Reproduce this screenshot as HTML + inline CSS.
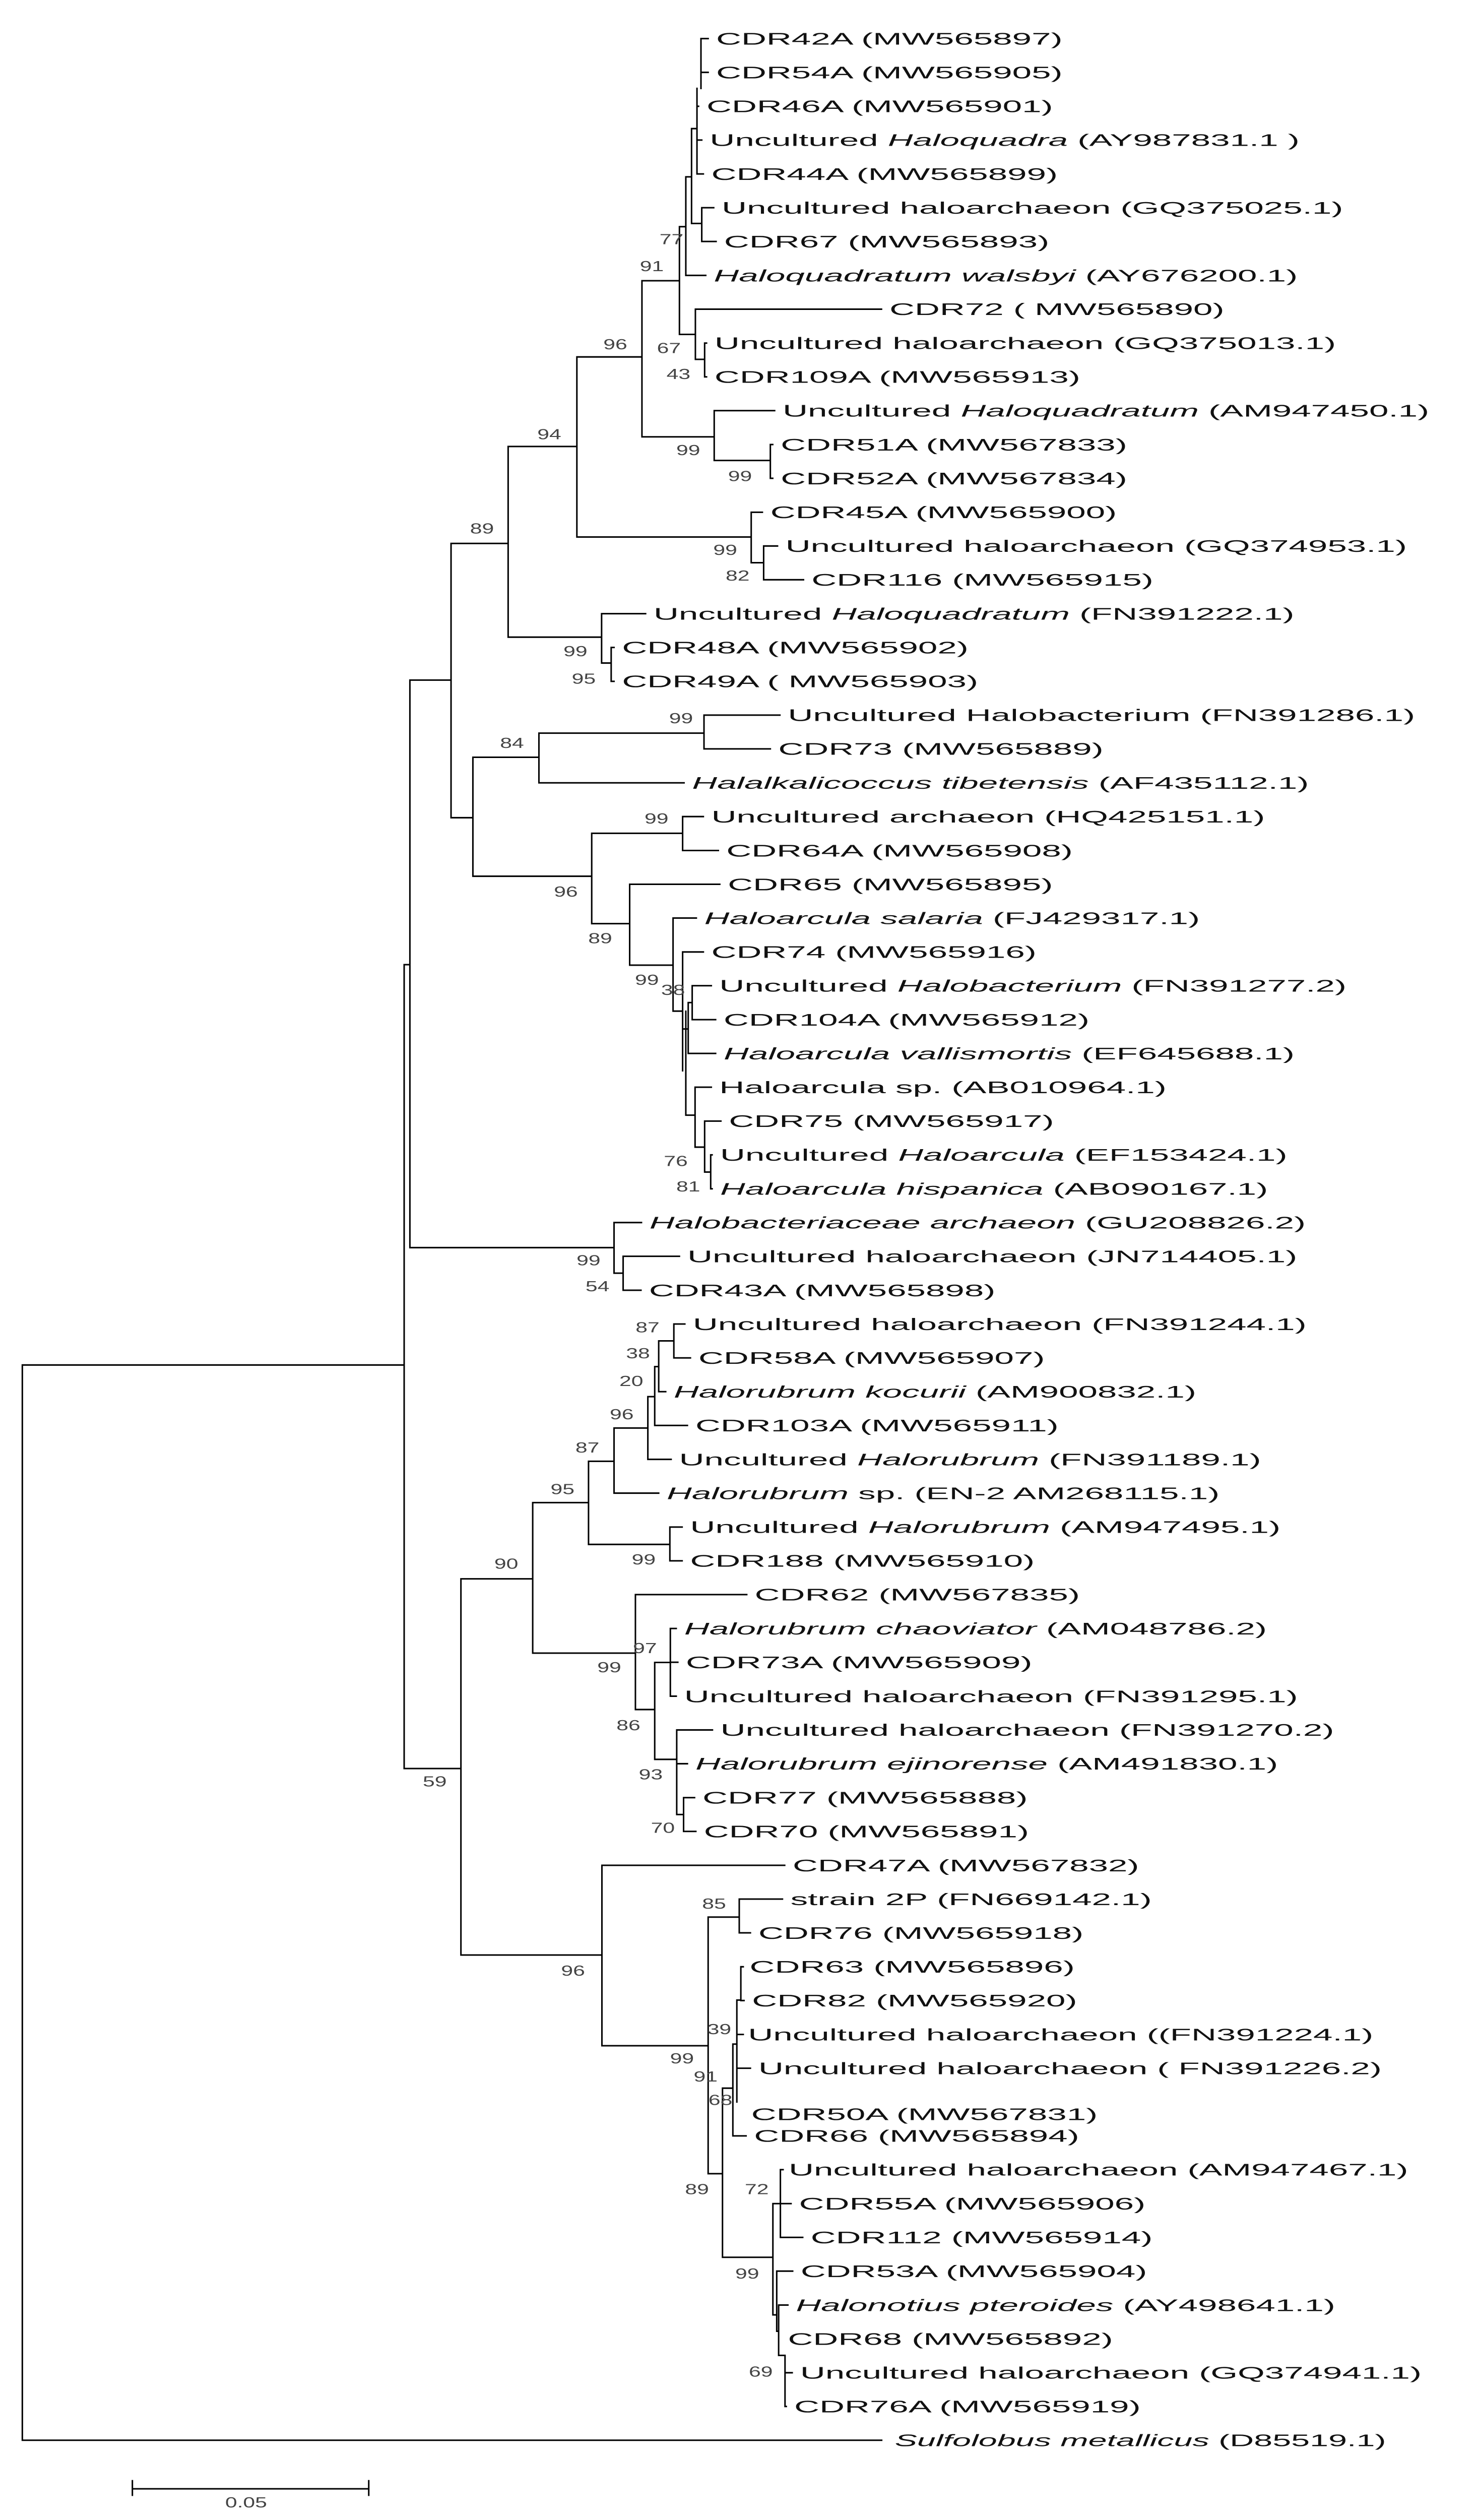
<!DOCTYPE html>
<html><head><meta charset="utf-8"><style>
html,body{margin:0;padding:0;background:#fff;width:2931px;height:5222px;overflow:hidden;}
svg{display:block;position:absolute;left:0;top:0;}
.t{font-family:"Liberation Sans",sans-serif;font-size:10.5px;fill:#111;}
.b{font-family:"Liberation Sans",sans-serif;font-size:9px;fill:#444;}
</style></head><body>
<svg width="2931" height="5222" style="width:2931px;height:5222px" xmlns="http://www.w3.org/2000/svg">
<rect width="2931" height="5222" fill="#fff"/>
<g transform="scale(3.165,3.19)">
<g stroke="#000" stroke-width="0.95" fill="none" stroke-linecap="square">
<path d="
M439.5 24V55 M439.5 24H444 M439.5 45H444
M437 55V108.2 M437 66.1H438 M437 87.1H440 M437 108.2H441 M433.6 80H437
M433.6 80V139 M433.6 139H440 M440 129.2V150.2 M440 129.2H447.5 M440 150.2H449
M430 110V171.3 M430 110H433.6 M430 171.3H442.5
M426 141V208 M426 141H430
M436 192.3V223.5 M426 208H436 M436 192.3H552.7
M441.8 213.4V234.4 M436 223.5H441.8 M441.8 213.4H443 M441.8 234.4H443
M402.5 174.6V271.7 M402.5 174.6H426 M402.5 271.7H447.8
M447.8 255.4V286.4 M447.8 255.4H485.7 M447.8 286.4H483
M483 276.5V297.5 M483 276.5H484.5 M483 297.5H484.5
M361.7 222V334 M361.7 222H402.5 M361.7 334H471
M471 318.6V350 M471 318.6H478 M471 350H478.8
M478.8 339.6V360.6 M478.8 339.6H487.5 M478.8 360.6H503.8
M318.6 277.7V396.3 M318.6 277.7H361.7 M318.6 396.3H377.2
M377.2 381.7V412.4 M377.2 381.7H404.8 M377.2 412.4H383.2
M383.2 402.7V423.8 M383.2 402.7H385 M383.2 423.8H385
M282.8 338V508.6 M282.8 338H318.6 M282.8 508.6H296.5
M296.5 471V545 M296.5 471H337.9 M296.5 545H371
M337.9 456V486.9 M337.9 456H441.4 M337.9 486.9H428.9
M441.4 444.8V465.8 M441.4 444.8H489 M441.4 465.8H483
M371 518.3V574.5 M371 518.3H428 M371 574.5H394.8
M428 507.9V529 M428 507.9H441 M428 529H450.4
M394.8 550V600.3 M394.8 550H451.3 M394.8 600.3H422
M422 571V628.9 M422 571H436.6 M422 628.9H428
M428 592.1V666 M428 592.1H441
M431.5 623.6V655.2 M428 640H431.5 M431.5 623.6H434 M431.5 655.2H448.7
M434 613.1V634.2 M434 613.1H446 M434 634.2H448.7
M430 629V693.6 M430 693.6H435.8
M435.8 676.2V713.5 M435.8 676.2H446 M435.8 713.5H441.8
M441.8 697.3V729 M441.8 697.3H452 M441.8 729H445.6
M445.6 718.3V739.4 M445.6 718.3H446.5 M445.6 739.4H446.5
M257 423V776 M257 423H282.8 M257 776H385
M385 760.4V791.9 M385 760.4H402.2 M385 791.9H390.7
M390.7 781.4V802.5 M390.7 781.4H426 M390.7 802.5H401.9
M253.4 600V1100 M253.4 600H257 M253.4 1100H289
M14 849V1517.8 M14 849H253.4 M14 1517.8H552.8
M289 982V1216 M289 982H334 M289 1216H377.4
M334 934.6V1028.2 M334 934.6H369 M334 1028.2H398.4
M369 908.9V960.6 M369 908.9H385 M369 960.6H420
M385 888.2V928.7 M385 888.2H406.2 M385 928.7H413
M406.2 868.7V907.7 M406.2 868.7H410.5 M406.2 907.7H420.8
M410.5 850V886.6 M410.5 850H413 M410.5 886.6H431
M413 834V865.6 M413 834H422.5 M413 865.6H417.4
M422.5 823.5V844.6 M422.5 823.5H429.4 M422.5 844.6H432.9
M420 949.8V970.8 M420 949.8H427.7 M420 970.8H427.7
M398.4 991.8V1063.3 M398.4 991.8H468.2 M398.4 1063.3H410.5
M410.5 1034V1094.3 M410.5 1034H420.3 M410.5 1094.3H424.3
M420.3 1012.9V1055 M420.3 1012.9H424 M420.3 1033.9H425 M420.3 1055H424
M424.3 1076V1128.6 M424.3 1076H446.7 M424.3 1097H431 M424.3 1128.6H428.6
M428.6 1118.1V1139.1 M428.6 1118.1H435.5 M428.6 1139.1H436.3
M377.4 1160.2V1272.4 M377.4 1160.2H492 M377.4 1272.4H444
M444 1192.4V1352 M444 1192.4H463.5 M444 1352H453
M463.5 1181.2V1202.2 M463.5 1181.2H490.6 M463.5 1202.2H470.5
M453 1298.8V1404 M453 1298.8H459.5 M453 1404H484.6
M459.5 1271.4V1328.5 M459.5 1271.4H462 M459.5 1328.5H467.8
M462 1244V1307.4 M462 1244H464.5 M462 1265.4H466 M462 1286.4H470.5
M464.5 1223.3V1244.3 M464.5 1223.3H466 M464.5 1244.3H466.5
M484.6 1370.6V1439.8 M484.6 1370.6H489.3 M484.6 1439.8H487
M489.3 1349.5V1391.6 M489.3 1349.5H491 M489.3 1370.6H496 M489.3 1391.6H503.3
M487 1412.6V1450 M487 1412.6H497 M487 1450H488.2
M488.2 1433.7V1465 M488.2 1433.7H494 M488.2 1465H492.2
M492.2 1465V1496.8 M492.2 1475.8H496.7 M492.2 1496.8H493
M83 1548H231.2 M83 1543V1552 M231.2 1543V1552
"/>
</g>
<g class="t">
<text transform="translate(449,24) scale(2.08,1)" dy="3.7">CDR42A  (MW565897)</text>
<text transform="translate(449,45) scale(2.08,1)" dy="3.7">CDR54A  (MW565905)</text>
<text transform="translate(443,66.1) scale(2.08,1)" dy="3.7">CDR46A  (MW565901)</text>
<text transform="translate(445,87.1) scale(2.08,1)" dy="3.7">Uncultured <tspan font-style="italic">Haloquadra</tspan>  (AY987831.1 )</text>
<text transform="translate(446,108.2) scale(2.08,1)" dy="3.7">CDR44A  (MW565899)</text>
<text transform="translate(452.5,129.2) scale(2.08,1)" dy="3.7">Uncultured haloarchaeon (GQ375025.1)</text>
<text transform="translate(454,150.2) scale(2.08,1)" dy="3.7">CDR67  (MW565893)</text>
<text transform="translate(447.5,171.3) scale(2.08,1)" dy="3.7"><tspan font-style="italic">Haloquadratum walsbyi</tspan> (AY676200.1)</text>
<text transform="translate(557.7,192.3) scale(2.08,1)" dy="3.7">CDR72  ( MW565890)</text>
<text transform="translate(448,213.4) scale(2.08,1)" dy="3.7">Uncultured haloarchaeon (GQ375013.1)</text>
<text transform="translate(448,234.4) scale(2.08,1)" dy="3.7">CDR109A  (MW565913)</text>
<text transform="translate(490.7,255.4) scale(2.08,1)" dy="3.7">Uncultured <tspan font-style="italic">Haloquadratum</tspan>  (AM947450.1)</text>
<text transform="translate(489.5,276.5) scale(2.08,1)" dy="3.7">CDR51A  (MW567833)</text>
<text transform="translate(489.5,297.5) scale(2.08,1)" dy="3.7">CDR52A  (MW567834)</text>
<text transform="translate(483,318.6) scale(2.08,1)" dy="3.7">CDR45A  (MW565900)</text>
<text transform="translate(492.5,339.6) scale(2.08,1)" dy="3.7">Uncultured haloarchaeon  (GQ374953.1)</text>
<text transform="translate(508.8,360.6) scale(2.08,1)" dy="3.7">CDR116  (MW565915)</text>
<text transform="translate(409.8,381.7) scale(2.08,1)" dy="3.7">Uncultured <tspan font-style="italic">Haloquadratum</tspan>  (FN391222.1)</text>
<text transform="translate(390,402.7) scale(2.08,1)" dy="3.7">CDR48A  (MW565902)</text>
<text transform="translate(390,423.8) scale(2.08,1)" dy="3.7">CDR49A  ( MW565903)</text>
<text transform="translate(494,444.8) scale(2.08,1)" dy="3.7">Uncultured Halobacterium  (FN391286.1)</text>
<text transform="translate(488,465.8) scale(2.08,1)" dy="3.7">CDR73  (MW565889)</text>
<text transform="translate(433.9,486.9) scale(2.08,1)" dy="3.7"><tspan font-style="italic">Halalkalicoccus tibetensis</tspan>  (AF435112.1)</text>
<text transform="translate(446,507.9) scale(2.08,1)" dy="3.7">Uncultured archaeon (HQ425151.1)</text>
<text transform="translate(455.4,529) scale(2.08,1)" dy="3.7">CDR64A  (MW565908)</text>
<text transform="translate(456.3,550) scale(2.08,1)" dy="3.7">CDR65  (MW565895)</text>
<text transform="translate(441.6,571) scale(2.08,1)" dy="3.7"><tspan font-style="italic">Haloarcula salaria</tspan>  (FJ429317.1)</text>
<text transform="translate(446,592.1) scale(2.08,1)" dy="3.7">CDR74  (MW565916)</text>
<text transform="translate(451,613.1) scale(2.08,1)" dy="3.7">Uncultured <tspan font-style="italic">Halobacterium</tspan>  (FN391277.2)</text>
<text transform="translate(453.7,634.2) scale(2.08,1)" dy="3.7">CDR104A  (MW565912)</text>
<text transform="translate(453.7,655.2) scale(2.08,1)" dy="3.7"><tspan font-style="italic">Haloarcula vallismortis</tspan> (EF645688.1)</text>
<text transform="translate(451,676.2) scale(2.08,1)" dy="3.7">Haloarcula sp.  (AB010964.1)</text>
<text transform="translate(457,697.3) scale(2.08,1)" dy="3.7">CDR75  (MW565917)</text>
<text transform="translate(451.5,718.3) scale(2.08,1)" dy="3.7">Uncultured <tspan font-style="italic">Haloarcula</tspan>  (EF153424.1)</text>
<text transform="translate(451.5,739.4) scale(2.08,1)" dy="3.7"><tspan font-style="italic">Haloarcula hispanica</tspan> (AB090167.1)</text>
<text transform="translate(407.2,760.4) scale(2.08,1)" dy="3.7"><tspan font-style="italic">Halobacteriaceae archaeon</tspan>  (GU208826.2)</text>
<text transform="translate(431,781.4) scale(2.08,1)" dy="3.7">Uncultured haloarchaeon  (JN714405.1)</text>
<text transform="translate(406.9,802.5) scale(2.08,1)" dy="3.7">CDR43A  (MW565898)</text>
<text transform="translate(434.4,823.5) scale(2.08,1)" dy="3.7">Uncultured haloarchaeon (FN391244.1)</text>
<text transform="translate(437.9,844.6) scale(2.08,1)" dy="3.7">CDR58A  (MW565907)</text>
<text transform="translate(422.4,865.6) scale(2.08,1)" dy="3.7"><tspan font-style="italic">Halorubrum  kocurii</tspan>  (AM900832.1)</text>
<text transform="translate(436,886.6) scale(2.08,1)" dy="3.7">CDR103A  (MW565911)</text>
<text transform="translate(425.8,907.7) scale(2.08,1)" dy="3.7">Uncultured <tspan font-style="italic">Halorubrum</tspan>  (FN391189.1)</text>
<text transform="translate(418,928.7) scale(2.08,1)" dy="3.7"><tspan font-style="italic">Halorubrum</tspan>  sp.  (EN-2 AM268115.1)</text>
<text transform="translate(432.7,949.8) scale(2.08,1)" dy="3.7">Uncultured <tspan font-style="italic">Halorubrum</tspan>  (AM947495.1)</text>
<text transform="translate(432.7,970.8) scale(2.08,1)" dy="3.7">CDR188  (MW565910)</text>
<text transform="translate(473.2,991.8) scale(2.08,1)" dy="3.7">CDR62  (MW567835)</text>
<text transform="translate(429,1012.9) scale(2.08,1)" dy="3.7"><tspan font-style="italic">Halorubrum  chaoviator</tspan> (AM048786.2)</text>
<text transform="translate(430,1033.9) scale(2.08,1)" dy="3.7">CDR73A  (MW565909)</text>
<text transform="translate(429,1055) scale(2.08,1)" dy="3.7">Uncultured haloarchaeon (FN391295.1)</text>
<text transform="translate(451.7,1076) scale(2.08,1)" dy="3.7">Uncultured haloarchaeon (FN391270.2)</text>
<text transform="translate(436,1097) scale(2.08,1)" dy="3.7"><tspan font-style="italic">Halorubrum  ejinorense</tspan> (AM491830.1)</text>
<text transform="translate(440.5,1118.1) scale(2.08,1)" dy="3.7">CDR77  (MW565888)</text>
<text transform="translate(441.3,1139.1) scale(2.08,1)" dy="3.7">CDR70  (MW565891)</text>
<text transform="translate(497,1160.2) scale(2.08,1)" dy="3.7">CDR47A  (MW567832)</text>
<text transform="translate(495.6,1181.2) scale(2.08,1)" dy="3.7">strain  2P  (FN669142.1)</text>
<text transform="translate(475.5,1202.2) scale(2.08,1)" dy="3.7">CDR76  (MW565918)</text>
<text transform="translate(470,1223.3) scale(2.08,1)" dy="3.7">CDR63  (MW565896)</text>
<text transform="translate(471.5,1244.3) scale(2.08,1)" dy="3.7">CDR82  (MW565920)</text>
<text transform="translate(469,1265.4) scale(2.08,1)" dy="3.7">Uncultured haloarchaeon ((FN391224.1)</text>
<text transform="translate(475.5,1286.4) scale(2.08,1)" dy="3.7">Uncultured haloarchaeon ( FN391226.2)</text>
<text transform="translate(471,1315) scale(2.08,1)" dy="3.7">CDR50A  (MW567831)</text>
<text transform="translate(472.8,1328.5) scale(2.08,1)" dy="3.7">CDR66  (MW565894)</text>
<text transform="translate(494.5,1349.5) scale(2.08,1)" dy="3.7">Uncultured haloarchaeon (AM947467.1)</text>
<text transform="translate(501,1370.6) scale(2.08,1)" dy="3.7">CDR55A  (MW565906)</text>
<text transform="translate(508.3,1391.6) scale(2.08,1)" dy="3.7">CDR112  (MW565914)</text>
<text transform="translate(502,1412.6) scale(2.08,1)" dy="3.7">CDR53A  (MW565904)</text>
<text transform="translate(499,1433.7) scale(2.08,1)" dy="3.7"><tspan font-style="italic">Halonotius pteroides</tspan> (AY498641.1)</text>
<text transform="translate(494,1454.7) scale(2.08,1)" dy="3.7">CDR68  (MW565892)</text>
<text transform="translate(501.7,1475.8) scale(2.08,1)" dy="3.7">Uncultured haloarchaeon (GQ374941.1)</text>
<text transform="translate(498,1496.8) scale(2.08,1)" dy="3.7">CDR76A  (MW565919)</text>
<text transform="translate(561,1517.8) scale(2.0,1)" dy="3.7"><tspan font-style="italic">Sulfolobus metallicus</tspan> (D85519.1)</text>
</g>
<g class="b" text-anchor="middle">
<text transform="translate(421,148.7) scale(1.5,1)" dy="3.2">77</text>
<text transform="translate(408.7,165.5) scale(1.5,1)" dy="3.2">91</text>
<text transform="translate(385.8,214) scale(1.5,1)" dy="3.2">96</text>
<text transform="translate(419.4,216.4) scale(1.5,1)" dy="3.2">67</text>
<text transform="translate(425.4,232.5) scale(1.5,1)" dy="3.2">43</text>
<text transform="translate(344.4,270) scale(1.5,1)" dy="3.2">94</text>
<text transform="translate(431.5,279.8) scale(1.5,1)" dy="3.2">99</text>
<text transform="translate(464,296) scale(1.5,1)" dy="3.2">99</text>
<text transform="translate(302.2,328.6) scale(1.5,1)" dy="3.2">89</text>
<text transform="translate(454.7,342) scale(1.5,1)" dy="3.2">99</text>
<text transform="translate(462.5,358) scale(1.5,1)" dy="3.2">82</text>
<text transform="translate(360.8,405) scale(1.5,1)" dy="3.2">99</text>
<text transform="translate(366,422) scale(1.5,1)" dy="3.2">95</text>
<text transform="translate(427,446.6) scale(1.5,1)" dy="3.2">99</text>
<text transform="translate(321,462) scale(1.5,1)" dy="3.2">84</text>
<text transform="translate(411.6,509) scale(1.5,1)" dy="3.2">99</text>
<text transform="translate(354.8,554.5) scale(1.5,1)" dy="3.2">96</text>
<text transform="translate(376.3,583.4) scale(1.5,1)" dy="3.2">89</text>
<text transform="translate(405.6,609.3) scale(1.5,1)" dy="3.2">99</text>
<text transform="translate(422,615.6) scale(1.5,1)" dy="3.2">38</text>
<text transform="translate(423.7,722) scale(1.5,1)" dy="3.2">76</text>
<text transform="translate(431.5,737.8) scale(1.5,1)" dy="3.2">81</text>
<text transform="translate(369,783.8) scale(1.5,1)" dy="3.2">99</text>
<text transform="translate(374.6,800) scale(1.5,1)" dy="3.2">54</text>
<text transform="translate(406,825.5) scale(1.5,1)" dy="3.2">87</text>
<text transform="translate(400,841.6) scale(1.5,1)" dy="3.2">38</text>
<text transform="translate(395.8,858.8) scale(1.5,1)" dy="3.2">20</text>
<text transform="translate(389.8,879.5) scale(1.5,1)" dy="3.2">96</text>
<text transform="translate(368.3,900.2) scale(1.5,1)" dy="3.2">87</text>
<text transform="translate(352.7,926.1) scale(1.5,1)" dy="3.2">95</text>
<text transform="translate(317.4,972.5) scale(1.5,1)" dy="3.2">90</text>
<text transform="translate(403.6,969.8) scale(1.5,1)" dy="3.2">99</text>
<text transform="translate(404.4,1025) scale(1.5,1)" dy="3.2">97</text>
<text transform="translate(382,1037) scale(1.5,1)" dy="3.2">99</text>
<text transform="translate(394,1073) scale(1.5,1)" dy="3.2">86</text>
<text transform="translate(408,1103.5) scale(1.5,1)" dy="3.2">93</text>
<text transform="translate(415.6,1136.8) scale(1.5,1)" dy="3.2">70</text>
<text transform="translate(272.6,1108) scale(1.5,1)" dy="3.2">59</text>
<text transform="translate(447.7,1184) scale(1.5,1)" dy="3.2">85</text>
<text transform="translate(359.3,1225.7) scale(1.5,1)" dy="3.2">96</text>
<text transform="translate(451,1262) scale(1.5,1)" dy="3.2">39</text>
<text transform="translate(427.6,1280.2) scale(1.5,1)" dy="3.2">99</text>
<text transform="translate(442.4,1291.4) scale(1.5,1)" dy="3.2">91</text>
<text transform="translate(451.7,1306) scale(1.5,1)" dy="3.2">68</text>
<text transform="translate(437,1361.5) scale(1.5,1)" dy="3.2">89</text>
<text transform="translate(474.5,1361.5) scale(1.5,1)" dy="3.2">72</text>
<text transform="translate(468.5,1414) scale(1.5,1)" dy="3.2">99</text>
<text transform="translate(477,1475) scale(1.5,1)" dy="3.2">69</text>
<text transform="translate(154.3,1556.4) scale(1.5,1)" dy="3.2">0.05</text>
</g>
</g>
</svg>
</body></html>
